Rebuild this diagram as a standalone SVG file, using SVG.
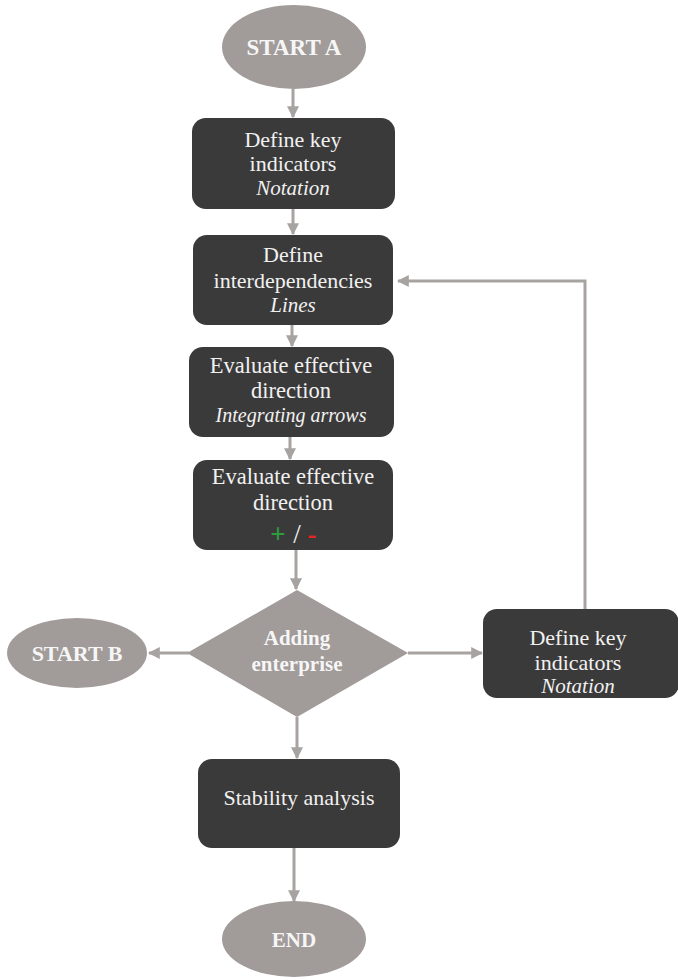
<svg xmlns="http://www.w3.org/2000/svg" width="678" height="980" viewBox="0 0 678 980">
  <style>
    .box { fill: #3b3a3a; }
    .term { fill: #a19b99; }
    .t { font-family: "Liberation Serif", "Times New Roman", serif; font-size: 22px; fill: #f1f1f1; text-anchor: middle; }
    .it { font-style: italic; font-size: 21px; }
    .b { font-weight: bold; fill: #f6f6f6; font-size: 21px; }
    .edge { fill: none; stroke: #a7a3a1; stroke-width: 3; }
  </style>
  <defs>
    <marker id="arr" viewBox="0 0 10 10" refX="9" refY="5" markerWidth="4" markerHeight="4" orient="auto" markerUnits="strokeWidth">
      <path d="M0,0 L10,5 L0,10 z" fill="#a7a3a1"/>
    </marker>
  </defs>

  <rect width="678" height="980" fill="#ffffff"/>

  <g id="connectors">
    <line class="edge" x1="293" y1="89" x2="293" y2="117" marker-end="url(#arr)"/>
    <line class="edge" x1="293" y1="209" x2="293" y2="234" marker-end="url(#arr)"/>
    <line class="edge" x1="292" y1="325" x2="292" y2="346" marker-end="url(#arr)"/>
    <line class="edge" x1="290" y1="437" x2="290" y2="459" marker-end="url(#arr)"/>
    <line class="edge" x1="296" y1="550" x2="296" y2="589" marker-end="url(#arr)"/>
    <line class="edge" x1="189" y1="653" x2="149" y2="653" marker-end="url(#arr)"/>
    <line class="edge" x1="408" y1="653" x2="482" y2="653" marker-end="url(#arr)"/>
    <polyline class="edge" points="585,609 585,281 398,281" marker-end="url(#arr)"/>
    <line class="edge" x1="297" y1="717" x2="297" y2="758" marker-end="url(#arr)"/>
    <line class="edge" x1="294" y1="848" x2="294" y2="901" marker-end="url(#arr)"/>
  </g>

  <g id="startA">
    <ellipse class="term" cx="294" cy="47" rx="72" ry="42"/>
    <text class="t b" x="294" y="55" style="font-size:23px">START A</text>
  </g>

  <g id="defineIndicators">
    <rect class="box" x="192" y="118" width="203" height="91" rx="14"/>
    <text class="t" x="293" y="147">Define key</text>
    <text class="t" x="293" y="171">indicators</text>
    <text class="t it" x="293" y="195">Notation</text>
  </g>

  <g id="defineInterdependencies">
    <rect class="box" x="193" y="235" width="200" height="90" rx="14"/>
    <text class="t" x="293" y="262">Define</text>
    <text class="t" x="293" y="288">interdependencies</text>
    <text class="t it" x="293" y="312">Lines</text>
  </g>

  <g id="evaluateArrows">
    <rect class="box" x="189" y="347" width="205" height="90" rx="14"/>
    <text class="t" x="291" y="373" style="font-size:22.5px">Evaluate effective</text>
    <text class="t" x="291" y="398" style="font-size:22.5px">direction</text>
    <text class="t it" x="291" y="422" style="font-size:20px">Integrating arrows</text>
  </g>

  <g id="evaluateSign">
    <rect class="box" x="193" y="460" width="200" height="90" rx="14"/>
    <text class="t" x="293" y="484" style="font-size:22.5px">Evaluate effective</text>
    <text class="t" x="293" y="510" style="font-size:22.5px">direction</text>
    <text class="t" y="543" style="font-size:27px"><tspan x="278" fill="#2e9b3f" font-weight="bold">+</tspan><tspan x="297">/</tspan><tspan x="312" fill="#e3261f" font-weight="bold">-</tspan></text>
  </g>

  <g id="addingEnterprise">
    <polygon class="term" points="297,590 408,653 297,717 187,653"/>
    <text class="t b" x="297" y="645">Adding</text>
    <text class="t b" x="297" y="671">enterprise</text>
  </g>

  <g id="startB">
    <ellipse class="term" cx="77" cy="653" rx="70" ry="35"/>
    <text class="t b" x="77" y="661" style="font-size:22px">START B</text>
  </g>

  <g id="defineIndicatorsB">
    <rect class="box" x="483" y="609" width="196" height="89" rx="14"/>
    <text class="t" x="578" y="645">Define key</text>
    <text class="t" x="578" y="670">indicators</text>
    <text class="t it" x="578" y="693">Notation</text>
  </g>

  <g id="stabilityAnalysis">
    <rect class="box" x="198" y="759" width="202" height="89" rx="14"/>
    <text class="t" x="299" y="805">Stability  analysis</text>
  </g>

  <g id="end">
    <ellipse class="term" cx="294" cy="939" rx="72" ry="38"/>
    <text class="t b" x="294" y="947">END</text>
  </g>
</svg>
